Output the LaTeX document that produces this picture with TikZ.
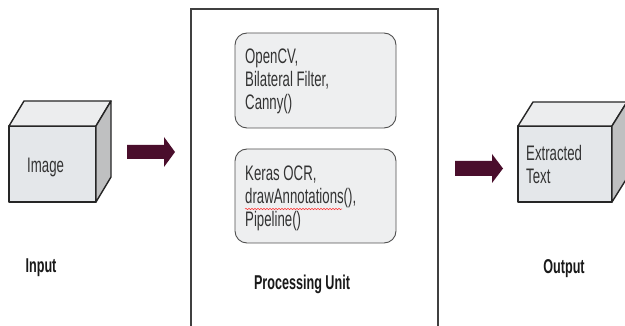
\documentclass[tikz,border=0pt]{standalone}
\usepackage{fontspec}
\newfontfamily\lsans[FakeStretch=0.63]{Liberation Sans}
\usetikzlibrary{decorations.pathmorphing}
\definecolor{arrowmaroon}{HTML}{4A0E2C}
\definecolor{cubefront}{HTML}{E4E7EA}
\definecolor{cubetop}{HTML}{ECEDEE}
\definecolor{cubeside}{HTML}{BFC0C1}
\definecolor{boxfill}{HTML}{EEEFF0}
\definecolor{edgegray}{HTML}{505050}
\begin{document}
\begin{tikzpicture}[x=1pt,y=-1pt,
  cubeline/.style={draw=black!85,line width=1.4pt,line join=round},
  blockarrow/.style={fill=arrowmaroon,draw=none},
  roundbox/.style={draw=edgegray,fill=boxfill,line width=0.9pt,rounded corners=12pt},
  outerbox/.style={draw=black!75,line width=1.1pt},
  boxtext/.style={font=\lsans\fontsize{21}{23}\selectfont,align=left,inner sep=0pt,anchor=north west,text=black!80},
  labeltext/.style={font=\lsans\bfseries\fontsize{20}{23}\selectfont,inner sep=0pt,anchor=base,text=black!90},
  squiggle/.style={draw=red!80,line width=0.5pt,decorate,decoration={snake,segment length=3pt,amplitude=0.7pt}}
]
\useasboundingbox (0,0) rectangle (625,326);
\clip (0,0) rectangle (625,326);
\fill[white] (0,0) rectangle (625,326);

% Left cube (input)
\draw[cubeline,fill=cubefront] (9,126) rectangle (96,202);
\draw[cubeline,fill=cubetop] (9,126) -- (24,101) -- (111,101) -- (96,126) -- cycle;
\draw[cubeline,fill=cubeside] (96,126) -- (111,101) -- (111,177) -- (96,202) -- cycle;
\node[boxtext,anchor=base west] (img) at (27,173) {Image};

% Right cube (output)
\draw[cubeline,fill=cubefront] (518,126) rectangle (612,202);
\draw[cubeline,fill=cubetop] (518,126) -- (533,102) -- (627,102) -- (612,126) -- cycle;
\draw[cubeline,fill=cubeside] (612,126) -- (627,102) -- (627,178) -- (612,202) -- cycle;
\node[boxtext] (ext) at (526,145) {Extracted\\Text};

% Block arrows
\fill[blockarrow] (127,145) -- (164,145) -- (164,137) -- (175,152) -- (164,167) -- (164,159) -- (127,159) -- cycle;
\fill[blockarrow] (455,161) -- (492,161) -- (492,154) -- (503,168.5) -- (492,183) -- (492,176) -- (455,176) -- cycle;

% Processing unit frame
\draw[outerbox] (191,340) -- (191,9) -- (438,9) -- (438,340);

% Inner rounded boxes
\draw[roundbox] (235,33) rectangle (396,128);
\node[boxtext] (p1) at (245,49) {OpenCV,\\Bilateral Filter,\\Canny()};
\draw[roundbox] (235,149) rectangle (396,243);
\node[boxtext] (p2) at (245,166) {Keras OCR,\\drawAnnotations(),\\Pipeline()};
\draw[squiggle] (245,209) -- (342,209);

% Labels
\node[labeltext] (lin) at (41,273) {Input};
\node[labeltext] (lpu) at (302,290) {Processing Unit};
\node[labeltext] (lout) at (564,274) {Output};
\end{tikzpicture}
\end{document}
